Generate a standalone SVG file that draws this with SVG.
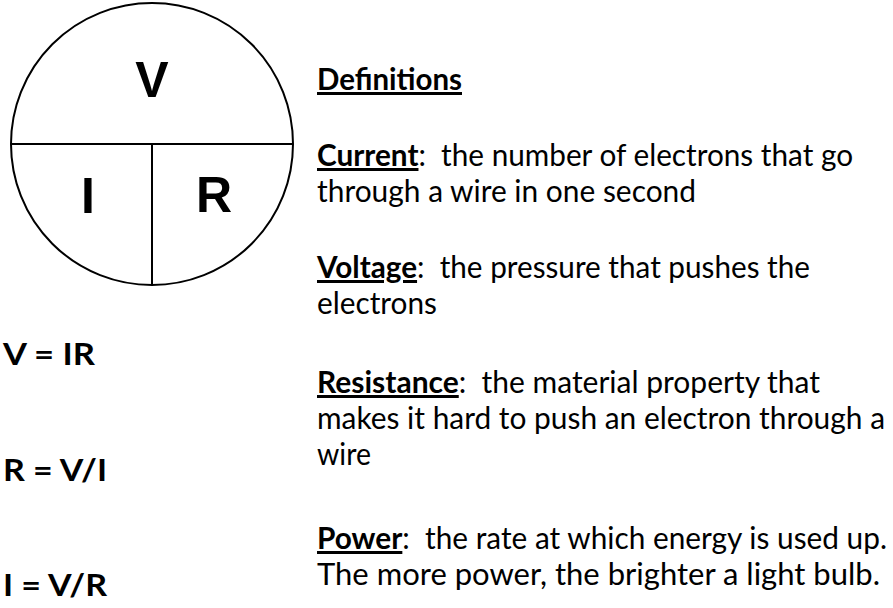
<svg xmlns="http://www.w3.org/2000/svg" width="893" height="608" viewBox="0 0 893 608">
<style>
.ln{stroke:#000;stroke-width:2;fill:none}
.big{font-family:"Liberation Sans",Arial,sans-serif;font-weight:bold;font-size:50px;fill:#000;text-anchor:middle}
.t{font-family:Lato,"Open Sans","Liberation Sans",sans-serif;font-size:30px;fill:#000}
.b{font-weight:bold;text-decoration:underline}
.eq{font-family:Lato,"Open Sans","Liberation Sans",sans-serif;font-size:30px;font-weight:bold;fill:#000}
</style>
<g id="triangle-circle">
<circle class="ln" cx="152" cy="144" r="141"/>
<line class="ln" x1="11" y1="144" x2="293" y2="144"/>
<line class="ln" x1="152" y1="144" x2="152" y2="285"/>
<text class="big" x="152" y="97">V</text>
<text class="big" x="88" y="213">I</text>
<text class="big" x="214" y="212">R</text>
</g>
<g id="definitions">
<text class="t" x="317" y="90" textLength="145" lengthAdjust="spacingAndGlyphs"><tspan class="b">Definitions</tspan></text>
<text class="t" x="317" y="166" textLength="536" lengthAdjust="spacingAndGlyphs"><tspan class="b">Current</tspan>:&#160; the number of electrons that go</text>
<text class="t" x="317" y="202" textLength="379" lengthAdjust="spacingAndGlyphs">through a wire in one second</text>
<text class="t" x="317" y="278" textLength="493" lengthAdjust="spacingAndGlyphs"><tspan class="b">Voltage</tspan>:&#160; the pressure that pushes the</text>
<text class="t" x="317" y="314" textLength="120" lengthAdjust="spacingAndGlyphs">electrons</text>
<text class="t" x="317" y="393" textLength="503" lengthAdjust="spacingAndGlyphs"><tspan class="b">Resistance</tspan>:&#160; the material property that</text>
<text class="t" x="317" y="429" textLength="568" lengthAdjust="spacingAndGlyphs">makes it hard to push an electron through a</text>
<text class="t" x="317" y="465" textLength="54" lengthAdjust="spacingAndGlyphs">wire</text>
<text class="t" x="317" y="549" textLength="570" lengthAdjust="spacingAndGlyphs"><tspan class="b">Power</tspan>:&#160; the rate at which energy is used up.</text>
<text class="t" x="317" y="585" textLength="563" lengthAdjust="spacingAndGlyphs">The more power, the brighter a light bulb.</text>
</g>
<g id="equations">
<text class="eq" x="3" y="365" textLength="92" lengthAdjust="spacingAndGlyphs">V = IR</text>
<text class="eq" x="3" y="481" textLength="104" lengthAdjust="spacingAndGlyphs">R = V/I</text>
<text class="eq" x="3" y="596" textLength="104" lengthAdjust="spacingAndGlyphs">I = V/R</text>
</g>
</svg>
